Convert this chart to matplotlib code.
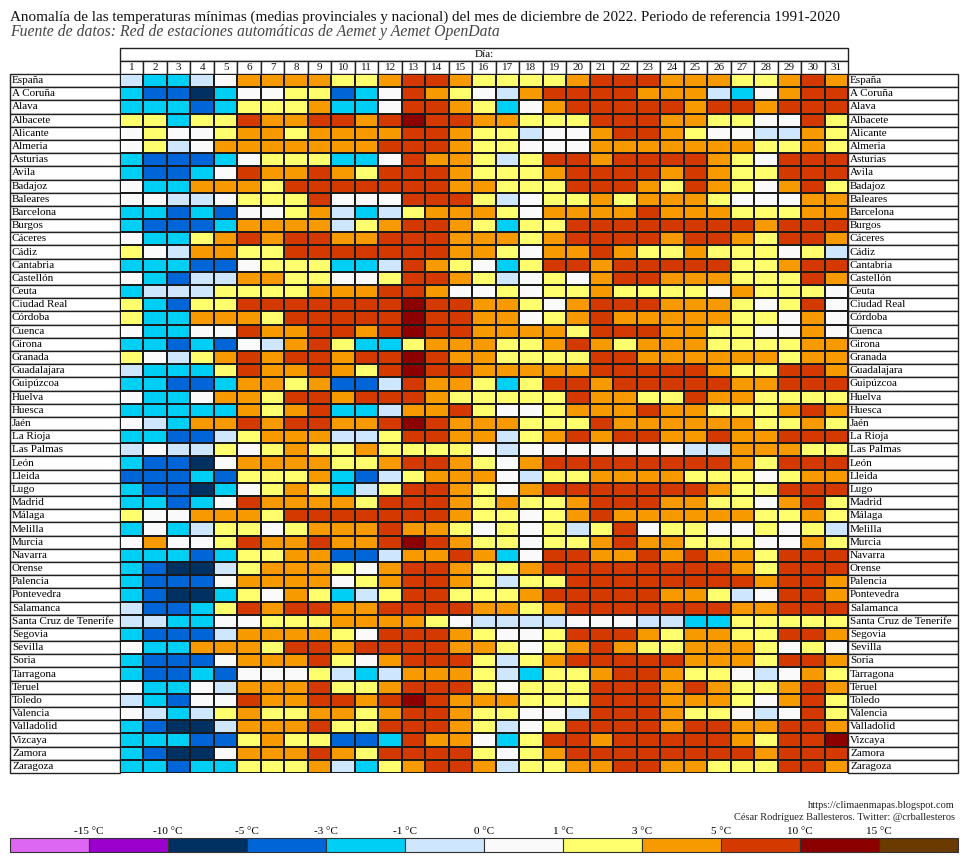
import numpy as np
import matplotlib
matplotlib.use('Agg')
import matplotlib.pyplot as plt
from matplotlib.colors import ListedColormap, BoundaryNorm
from matplotlib.patches import Rectangle

plt.rcParams['font.family'] = ['Liberation Serif', 'DejaVu Serif']

titulo = ("Anomalía de las temperaturas mínimas (medias provinciales y nacional) "
          "del mes de diciembre de 2022. Periodo de referencia 1991-2020")
subtitulo = "Fuente de datos: Red de estaciones automáticas de Aemet y Aemet OpenData"
creditos = ["https://climaenmapas.blogspot.com",
            "César Rodríguez Ballesteros. Twitter: @crballesteros"]

provincias = ["España", "A Coruña", "Alava", "Albacete", "Alicante", "Almeria",
              "Asturias", "Avila", "Badajoz", "Baleares", "Barcelona", "Burgos",
              "Cáceres", "Cádiz", "Cantabria", "Castellón", "Ceuta", "Ciudad Real",
              "Córdoba", "Cuenca", "Girona", "Granada", "Guadalajara", "Guipúzcoa",
              "Huelva", "Huesca", "Jaén", "La Rioja", "Las Palmas", "León", "Lleida",
              "Lugo", "Madrid", "Málaga", "Melilla", "Murcia", "Navarra", "Orense",
              "Palencia", "Pontevedra", "Salamanca", "Santa Cruz de Tenerife",
              "Segovia", "Sevilla", "Soria", "Tarragona", "Teruel", "Toledo",
              "Valencia", "Valladolid", "Vizcaya", "Zamora", "Zaragoza"]

dias = list(range(1, 32))

# Category code of the anomaly read for each day (1..31), per province
# N:-10..-5  B:-5..-3  C:-3..-1  L:-1..0  W:0..1  Y:1..3  O:3..5  R:5..10  D:10..15
codigos = [
    "LCCLWOOOOY" "YORROYYYYO" "RRROOOYYORO",   # España
    "CBBNCWWYYB" "CWROYWLORR" "RROOOLCWORR",   # A Coruña
    "CCCBCYYYOC" "CWRROYCWOR" "RRRRORRORRR",   # Alava
    "YYCYYROORR" "ORDRROOYYY" "RRROOYYWWRY",   # Albacete
    "WYWWYOOYOO" "OORROYYLWW" "ORROYWWLLOY",   # Alicante
    "WYLWOOOOOO" "ORRROYYWWW" "OOOOOOOYYOY",   # Almeria
    "CBBBCWYYYC" "CWROOYLYRR" "ORRRROYWRRR",   # Asturias
    "CBBCWROORO" "YRRROYYYOR" "RRROROYYRRR",   # Avila
    "WCCOOOYRRR" "RRRROOYYYR" "RROYROYWORY",   # Badajoz
    "WWLLWYYYRW" "WWRRRYLWYY" "OYOOOYWWWOO",   # Baleares
    "CCBCBWWYOL" "CLYOOOYWOO" "OOROOOYYYOO",   # Barcelona
    "CBBBCOOOOL" "YORROYCYYR" "RRRRRRRORRR",   # Burgos
    "WCCYORORRO" "ORRROOOYOR" "RRRORROYRRO",   # Cáceres
    "YWLOOYYRRR" "RRRROOYWOO" "ROYYOYYYWYL",   # Cádiz
    "CCCBBWYYYC" "CLROYWCYRR" "ORRRRRYYORR",   # Cantabria
    "WCBLLOOYYW" "WYRROYLWYW" "ORROOOYYYRO",   # Castellón
    "CLLLYYYYOO" "ORROWWYWYY" "OYYYYWOYYYW",   # Ceuta
    "YCBYYRRRRR" "RRDRROOYWO" "RRROOOYWYRW",   # Ciudad Real
    "YCCOOOYRRR" "RRDRROOWYO" "ROOOOOYYWOW",   # Córdoba
    "WCCWWROORR" "ORDRROOOOY" "RRROOYYWWOW",   # Cuenca
    "CCBCBWLORY" "CCYOOOYYOR" "OYOOOYYYYOO",   # Girona
    "YWLYORORRO" "RRDROOYYYY" "RROOOOOOYOO",   # Granada
    "LCCCYROORO" "YRDRROOOOO" "RRRRROYYRRO",   # Guadalajara
    "CCBBCOOYOB" "BLROOYCYRR" "ORRRRROORRR",   # Guipúzcoa
    "WCCWOOYRRO" "RRROYYYYYR" "OOYYROOYYYY",   # Huelva
    "CCCCCOYORC" "CLOORYWWYO" "OOROOYYYORO",   # Huesca
    "WLCOORORRO" "ORDROOOYYY" "ROOOOOOYYOY",   # Jaén
    "CCBBLYOOOL" "LYRROOLYOR" "ORROOROORRR",   # La Rioja
    "LWLLYWYOYY" "OYYYYWLWWW" "WWWWLLOOOYY",   # Las Palmas
    "CBBNWOOOOY" "YORROYWORR" "RRRRRROYRRR",   # León
    "BBBCBYYYOC" "BLYOOOWLYY" "OOOOYYYWYOO",   # Lleida
    "CBBNCWYOYC" "LYRROYWORR" "RRRRROYYRRR",   # Lugo
    "CCBCWROOOO" "YRRROYOYYO" "RRROOYYWORY",   # Madrid
    "YWWOOOYRRR" "RRRROYYWYO" "ROOOOOOYYOY",   # Málaga
    "CWCLYYWYOO" "OROOYWYWYL" "YRWYYWWYWYL",   # Melilla
    "WOWWYROORO" "ORDROYYWYY" "OROOYYYWWOY",   # Murcia
    "CCCBCYYOOB" "BLOOROCWRR" "OOROROOYRRR",   # Navarra
    "CBNNLYOOOY" "WORROYYORR" "RRRRRROYRRR",   # Orense
    "CBBBWOOOOW" "YORROYLYYR" "RRRRRRRORRO",   # Palencia
    "CBNNCYWOYC" "LYRRYYYORR" "RRROOYLWRRO",   # Pontevedra
    "LBBCYRORRO" "ORRRROOYOR" "RRRRRROORRR",   # Salamanca
    "LLCCWWYYYO" "OOOYWLLLLW" "WWLLCCYYYYY",   # Santa Cruz de Tenerife
    "CBBBLOOOOY" "WRRROYWWYR" "RROYOOYYRRO",   # Segovia
    "WCCOOOYRRO" "RRRROOYWYO" "ROYYOOOYWYW",   # Sevilla
    "CBBBWOOORY" "WORRRYLYOR" "RRRROOOYRRO",   # Soria
    "CBBCBWWWYL" "CLOOOYLCYY" "ORROYYWLWOY",   # Tarragona
    "WCCWLOOORY" "YORRRYWYYY" "RRROROYYORO",   # Teruel
    "LCBWWROORR" "ORDROOOYYY" "RRROOOYWORY",   # Toledo
    "WLCLYOYYOO" "YORROYYWWL" "RRROYYWLWRY",   # Valencia
    "CBNNLOOORY" "YRRROYLWYR" "RRRORROORRO",   # Valladolid
    "CCCBBYOYYB" "BCROOWCYRR" "ORRRRROYRRD",   # Vizcaya
    "CBNNWOOORO" "YRRRRYWYOR" "RRRRRRRORRR",   # Zamora
    "CCBCCYYYOL" "CYORROLYYO" "ORROOYYYRRO",   # Zaragoza
]

limites = [-20, -15, -10, -5, -3, -1, 0, 1, 3, 5, 10, 15, 20]
colores = ["#dd66f2", "#9c00cc", "#003163", "#0066d8", "#00cff5", "#cfe6ff",
           "#fafafa", "#ffff6e", "#f79a00", "#d43a00", "#8c0000", "#6b3a00"]
etiquetas_leyenda = ["-15 °C", "-10 °C", "-5 °C", "-3 °C", "-1 °C", "0 °C",
                     "1 °C", "3 °C", "5 °C", "10 °C", "15 °C"]
valor_codigo = {"V": -17, "P": -12.5, "N": -7.5, "B": -4, "C": -2, "L": -0.5,
                "W": 0.5, "Y": 2, "O": 4, "R": 7.5, "D": 12.5, "X": 17}

datos = np.array([[valor_codigo[c] for c in fila] for fila in codigos])

W, H = 967, 860
fig = plt.figure(figsize=(W / 100, H / 100), dpi=100)
fig.patch.set_facecolor("white")

ov = fig.add_axes([0, 0, 1, 1])
ov.set_xlim(0, W)
ov.set_ylim(H, 0)
ov.axis("off")

x0, x1 = 120, 848
y0, y1 = 74, 773
nfil, ncol = len(provincias), len(dias)
rh = (y1 - y0) / nfil
cw = (x1 - x0) / ncol

ax = fig.add_axes([x0 / W, 1 - y1 / H, (x1 - x0) / W, (y1 - y0) / H])
cmap = ListedColormap(colores)
norm = BoundaryNorm(limites, cmap.N)
ax.pcolormesh(np.arange(ncol + 1), np.arange(nfil + 1), datos, cmap=cmap,
              norm=norm, edgecolors="#1a1a1a", linewidth=1.1)
ax.set_xlim(0, ncol)
ax.set_ylim(nfil, 0)
ax.axis("off")

# Title
ov.text(10, 17, titulo, fontsize=10.9, va="center", ha="left", color="#111")
ov.text(10, 32, subtitulo, fontsize=11.3, va="center", ha="left",
        style="italic", color="#444")

# Header
ov.add_patch(Rectangle((x0, 48), x1 - x0, 13, fc="white", ec="#222", lw=1))
ov.text((x0 + x1) / 2, 54.5, "Día:", fontsize=8, ha="center", va="center")
for j, d in enumerate(dias):
    ov.add_patch(Rectangle((x0 + j * cw, 61), cw, 13, fc="white", ec="#222", lw=1))
    ov.text(x0 + (j + 0.5) * cw, 67.5, str(d), fontsize=8, ha="center",
            va="center", color="#111")

# Name columns
for i, p in enumerate(provincias):
    yy = y0 + i * rh
    ov.add_patch(Rectangle((10, yy), 110, rh, fc="white", ec="#222", lw=1))
    ov.add_patch(Rectangle((848, yy), 110, rh, fc="white", ec="#222", lw=1))
    ov.text(12, yy + rh / 2, p, fontsize=8, ha="left", va="center")
    ov.text(850, yy + rh / 2, p, fontsize=8, ha="left", va="center")

# Credits
ov.text(955, 806, creditos[0], fontsize=7.5, ha="right", va="center", color="#222")
ov.text(955, 818, creditos[1], fontsize=7.5, ha="right", va="center", color="#222")

# Legend
lw_box = 79
for k, c in enumerate(colores):
    ov.add_patch(Rectangle((10 + k * lw_box, 838), lw_box, 14, fc=c, ec="#333", lw=0.8))
for k, et in enumerate(etiquetas_leyenda):
    ov.text(10 + (k + 1) * lw_box, 831, et, fontsize=8, ha="center", va="center")

fig.savefig("out.png", dpi=100, facecolor="white")
